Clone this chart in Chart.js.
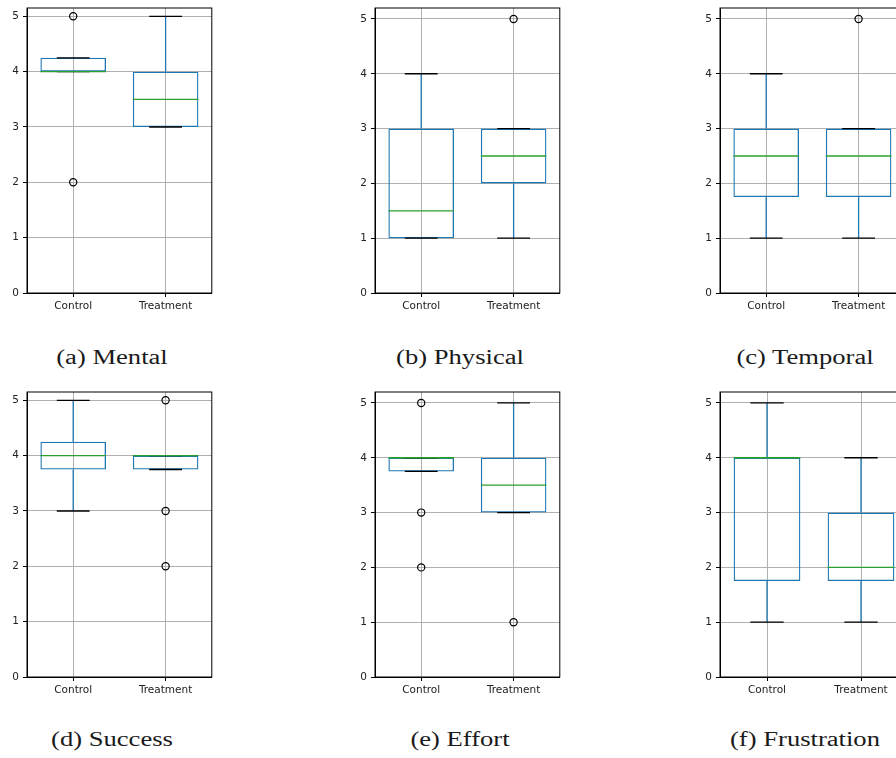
<!DOCTYPE html>
<html>
<head>
<meta charset="utf-8">
<script src="https://cdn.jsdelivr.net/npm/chart.js@4.4.0/dist/chart.umd.min.js"></script>
<style>
  html, body { margin: 0; padding: 0; background: #fff; }
  body { width: 896px; height: 758px; overflow: hidden; position: relative; }
  canvas { position: absolute; }
  .caption {
    position: absolute;
    width: 300px;
    text-align: center;
    font-family: "Liberation Serif", serif;
    font-size: 20px;
    line-height: 20px;
    color: #1a1a1a;
    white-space: nowrap;
    transform: scaleX(1.33);
    transform-origin: center;
  }
</style>
</head>
<body>
<script>
// data
const categories = ["Control", "Treatment"];
const yTicks = [0, 1, 2, 3, 4, 5];
const panelTitles = ["(a) Mental", "(b) Physical", "(c) Temporal", "(d) Success", "(e) Effort", "(f) Frustration"];
const yMax = [5.15, 5.2, 5.2, 5.15, 5.2, 5.2];

// [Control, Treatment] per panel
const q1 = [[4, 3], [1, 2], [1.75, 1.75], [3.75, 3.75], [3.75, 3], [1.75, 1.75]];
const medians = [[4, 3.5], [1.5, 2.5], [2.5, 2.5], [4, 4], [4, 3.5], [4, 2]];
const q3 = [[4.25, 4], [3, 3], [3, 3], [4.25, 4], [4, 4], [4, 3]];
const whiskerLow = [[4, 3], [1, 1], [1, 1], [3, 3.75], [3.75, 3], [1, 1]];
const whiskerHigh = [[4.25, 5], [4, 3], [4, 3], [5, 4], [4, 5], [5, 4]];
const fliersControl = [[5, 2], [], [], [], [5, 3, 2], []];
const fliersTreatment = [[], [5], [5], [5, 3, 2], [1], []];

// layout / style
const colLeft = [0, 348, 693];
const rowTop = [0, 384];
const captionCenter = [112, 460, 805];
const captionTop = [347, 729];
const BOX_WIDTH = 0.71;
const BLUE = "#1f77b4";
const GREEN = "#2ca02c";
const GRID = "#b0b0b0";

Chart.defaults.font.family = "'DejaVu Sans', sans-serif";
Chart.defaults.font.size = 10.5;

function strokeLine(ctx, x1, y1, x2, y2, color) {
  ctx.beginPath();
  ctx.strokeStyle = color;
  ctx.lineWidth = 1.3;
  ctx.moveTo(x1, y1);
  ctx.lineTo(x2, y2);
  ctx.stroke();
}

function boxParts(p) {
  return {
    id: "boxParts",
    beforeDatasetsDraw(chart) {
      const a = chart.chartArea;
      const ctx = chart.ctx;
      ctx.save();
      ctx.strokeStyle = "#000";
      ctx.lineWidth = 1;
      ctx.strokeRect(a.left, a.top, a.right - a.left, a.bottom - a.top);
      ctx.restore();
    },
    afterDatasetDraw(chart, args) {
      if (args.index !== 0) return;
      const ctx = chart.ctx;
      const x = chart.scales.x;
      const y = chart.scales.y;
      const unit = x.getPixelForValue(1) - x.getPixelForValue(0);
      const half = unit * BOX_WIDTH / 2;
      ctx.save();
      categories.forEach((c, i) => {
        const cx = x.getPixelForValue(i);
        // whiskers
        strokeLine(ctx, cx, y.getPixelForValue(q1[p][i]), cx, y.getPixelForValue(whiskerLow[p][i]), BLUE);
        strokeLine(ctx, cx, y.getPixelForValue(q3[p][i]), cx, y.getPixelForValue(whiskerHigh[p][i]), BLUE);
        // caps
        [whiskerLow, whiskerHigh].forEach((arr) => {
          const yy = y.getPixelForValue(arr[p][i]);
          strokeLine(ctx, cx - half / 2, yy, cx + half / 2, yy, "#000");
        });
        // median
        const my = y.getPixelForValue(medians[p][i]);
        strokeLine(ctx, cx - half, my, cx + half, my, GREEN);
      });
      ctx.restore();
    },
  };
}

function makePanel(p) {
  const canvas = document.createElement("canvas");
  canvas.width = 217;
  canvas.height = 318;
  canvas.style.left = colLeft[p % 3] + "px";
  canvas.style.top = rowTop[Math.floor(p / 3)] + "px";
  document.body.appendChild(canvas);

  const flierPoints = [];
  fliersControl[p].forEach((v) => flierPoints.push({ x: categories[0], y: v }));
  fliersTreatment[p].forEach((v) => flierPoints.push({ x: categories[1], y: v }));

  new Chart(canvas, {
    type: "bar",
    data: {
      labels: categories,
      datasets: [
        {
          type: "bar",
          data: categories.map((c, i) => [q1[p][i], q3[p][i]]),
          backgroundColor: "rgba(0,0,0,0)",
          borderColor: BLUE,
          borderWidth: 1.3,
          borderSkipped: false,
          barPercentage: BOX_WIDTH,
          categoryPercentage: 1,
        },
        {
          type: "line",
          data: flierPoints,
          showLine: false,
          pointRadius: 3.6,
          pointBorderColor: "#000",
          pointBackgroundColor: "rgba(0,0,0,0)",
          pointBorderWidth: 1.2,
          clip: false,
        },
      ],
    },
    options: {
      responsive: false,
      animation: false,
      devicePixelRatio: 1,
      layout: { padding: { top: 8, right: 2, left: 0, bottom: 0 } },
      plugins: {
        legend: { display: false },
        tooltip: { enabled: false },
      },
      scales: {
        x: {
          type: "category",
          offset: true,
          grid: { offset: false, color: GRID, lineWidth: 1, tickLength: 4, tickColor: "#000" },
          border: { color: "#000", width: 1 },
          ticks: { color: "#222", padding: 3, maxRotation: 0 },
          afterFit(s) { s.height = 25; },
        },
        y: {
          type: "linear",
          min: 0,
          max: yMax[p],
          grid: { color: GRID, lineWidth: 1, tickLength: 4, tickColor: "#000" },
          border: { color: "#000", width: 1 },
          ticks: { color: "#222", padding: 4 },
          afterBuildTicks(s) { s.ticks = yTicks.map((v) => ({ value: v })); },
          afterFit(s) {
            s.width = 27;
            s.paddingTop = 0;
            s.paddingBottom = 0;
          },
        },
      },
    },
    plugins: [boxParts(p)],
  });

  const cap = document.createElement("div");
  cap.className = "caption";
  cap.textContent = panelTitles[p];
  cap.style.left = (captionCenter[p % 3] - 150) + "px";
  cap.style.top = captionTop[Math.floor(p / 3)] + "px";
  document.body.appendChild(cap);
}

panelTitles.forEach((t, p) => makePanel(p));
</script>
</body>
</html>
